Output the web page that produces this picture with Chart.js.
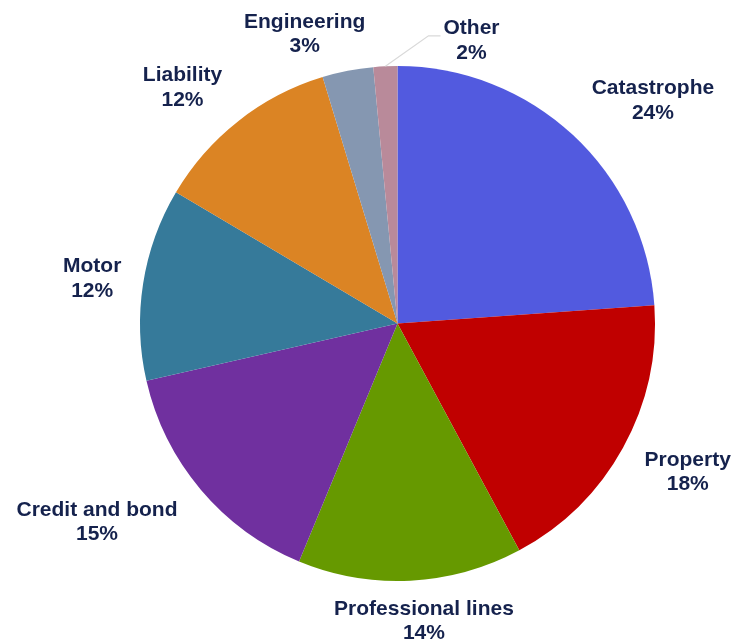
<!DOCTYPE html>
<html>
<head>
  <title>Portfolio mix</title>
  <script src="https://cdn.jsdelivr.net/npm/chart.js"></script>
  <style>
    html, body { margin: 0; padding: 0; background: #fff; }
    #wrap { width: 734px; height: 642px; }
  </style>
</head>
<body>
  <div id="wrap"><canvas id="mixChart" width="734" height="642"></canvas></div>

  <script>
    const categories = ['Catastrophe', 'Property', 'Professional lines', 'Credit and bond',
                        'Motor', 'Liability', 'Engineering', 'Other'];
    const shares = [23.9, 18.3, 14.1, 15.2, 12.1, 11.8, 3.2, 1.5];
    const shareLabels = ['24%', '18%', '14%', '15%', '12%', '12%', '3%', '2%'];
    const sliceColors = ['#525ADF', '#C00000', '#669900', '#70309F',
                         '#367A9A', '#DB8424', '#8597B1', '#B98A9A'];

    // labels outside the pie, placed like excel's "outside end"
    const outsideLabels = {
      id: 'outsideLabels',
      afterDatasetsDraw(chart, args, opts) {
        const ctx = chart.ctx;
        const arcs = chart.getDatasetMeta(0).data;
        ctx.save();
        ctx.font = 'bold 21px "Liberation Sans", Arial, sans-serif';
        ctx.fillStyle = '#15224D';
        ctx.textAlign = 'center';
        ctx.textBaseline = 'middle';
        const lh = 24.5;
        arcs.forEach((arc, i) => {
          const p = arc.getProps(['x', 'y', 'startAngle', 'endAngle', 'outerRadius'], true);
          const mid = (p.startAngle + p.endAngle) / 2;
          const dx = Math.cos(mid), dy = Math.sin(mid);
          const ax = p.x + dx * (p.outerRadius + opts.gap);
          const ay = p.y + dy * (p.outerRadius + opts.gap);
          const lines = [categories[i], shareLabels[i]];
          const w = Math.max(...lines.map(t => ctx.measureText(t).width));
          const h = lh * lines.length;
          const nudge = opts.nudge[i] || [0, 0];
          const cx = ax + Math.max(-1, Math.min(1, dx * 3)) * w / 2 + nudge[0];
          const cy = ay + dy * h / 2 + nudge[1];
          if (opts.leader.includes(categories[i])) {
            const ex = p.x + dx * p.outerRadius, ey = p.y + dy * p.outerRadius;
            const left = cx - w / 2;
            ctx.strokeStyle = '#D9D9D9';
            ctx.lineWidth = 1.2;
            ctx.beginPath();
            ctx.moveTo(ex, ey);
            ctx.lineTo(left - 15, cy - 5);
            ctx.lineTo(left - 3, cy - 5);
            ctx.stroke();
          }
          lines.forEach((t, k) => {
            ctx.fillText(t, cx, cy - h / 2 + lh * (k + 0.5));
          });
        });
        ctx.restore();
      }
    };

    new Chart(document.getElementById('mixChart'), {
      type: 'pie',
      data: {
        labels: categories,
        datasets: [{
          data: shares,
          backgroundColor: sliceColors,
          borderWidth: 0
        }]
      },
      options: {
        responsive: false,
        animation: false,
        layout: { padding: { top: 66, bottom: 61, left: 140, right: 79 } },
        plugins: {
          legend: { display: false },
          tooltip: { enabled: false },
          outsideLabels: {
            gap: 20,
            nudge: [[5, -2], [4, 3], [-1, -4], [-8, 4], [-2, 2], [-4, 2], [-4, 7], [91, 19]],
            leader: ['Other']
          }
        }
      },
      plugins: [outsideLabels]
    });
  </script>
</body>
</html>
